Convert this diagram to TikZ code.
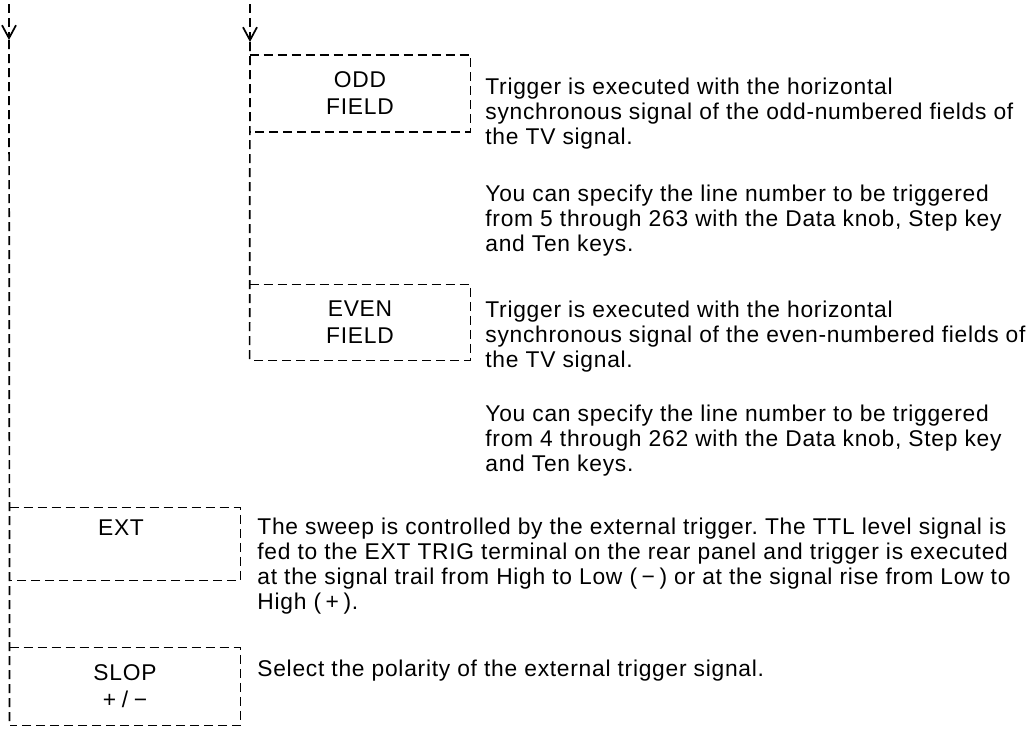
\documentclass[tikz,border=0pt]{standalone}
\usepackage{fontspec}
\setmainfont{Liberation Sans}[LetterSpace=3.2]
\usetikzlibrary{arrows.meta, positioning}
\frenchspacing

\begin{document}
\begin{tikzpicture}[x=0.5pt, y=-0.5pt,
  bus/.style={line width=0.85pt, dash pattern=on 4.5pt off 2.5pt},
  tip/.style={-{Straight Barb[length=6.5pt, width=7pt, line width=0.85pt]}},
  keybox/.style={minimum width=110pt, minimum height=38pt, inner sep=0pt,
    align=center, font=\fontsize{11.4}{13.5}\selectfont},
  keylbl/.style={inner sep=0pt, font=\fontsize{11.4}{13.5}\selectfont},
  desc/.style={anchor=north west, inner sep=0pt, align=left,
    font=\fontsize{11.4}{12.5}\selectfont}
]
\useasboundingbox (0,0) rectangle (1029,730);

% trigger source keys
\node[keybox] (odd) at (360,93.5) {ODD\\FIELD};
\node[keybox, minimum height=37.5pt] (even) at (360,322.5) {EVEN\\FIELD};
\node[keybox, minimum width=115pt, minimum height=36pt] (ext) at (125,544) {};
\node[keylbl, anchor=base] (extlbl) at (121,535) {EXT};
\node[keybox, minimum width=115pt, minimum height=38.5pt] (slop) at (125,686.5)
  {SLOP\\+\hspace{0.25em}/\hspace{0.25em}−};

% box outlines, the bus line gives the left side
\foreach \k in {odd, even, ext, slop}
  \draw[bus] (\k.north west) -| (\k.south east) -- (\k.south west);

% bus lines
\coordinate (ltop) at (9,4);
\coordinate (larr) at (9,40);
\coordinate (rtop) at (250,4);
\coordinate (rarr) at (250,42);
\draw[bus, tip] (ltop) -- (larr);
\draw[bus] (larr) -- (slop.south west);
\draw[bus, tip] (rtop) -- (rarr);
\draw[bus] (rarr) -- (even.south west);

% descriptions
\node[desc] (oddtxt) at (485,78) {Trigger is executed with the horizontal\\
  synchronous signal of the odd-numbered fields of\\the TV signal.};
\node[desc] (oddnum) at (485,185) {You can specify the line number to be triggered\\
  from 5 through 263 with the Data knob, Step key\\and Ten keys.};
\node[desc] (eventxt) at (485,301) {Trigger is executed with the horizontal\\
  synchronous signal of the even-numbered fields of\\the TV signal.};
\node[desc] (evennum) at (485,405) {You can specify the line number to be triggered\\
  from 4 through 262 with the Data knob, Step key\\and Ten keys.};
\node[desc] (exttxt) at (257,518) {The sweep is controlled by the external trigger. The TTL level signal is\\
  fed to the EXT TRIG terminal on the rear panel and trigger is executed\\
  at the signal trail from High to Low (\hspace{0.2em}−\hspace{0.2em}) or at the signal rise from Low to\\
  High (\hspace{0.2em}+\hspace{0.2em}).};
\node[desc] (sloptxt) at (257,660) {Select the polarity of the external trigger signal.};
\end{tikzpicture}
\end{document}
